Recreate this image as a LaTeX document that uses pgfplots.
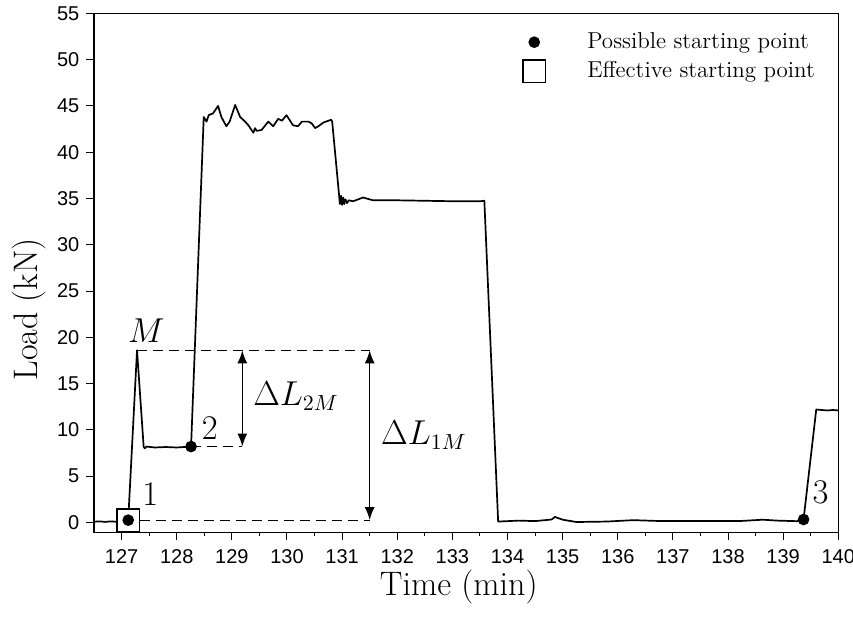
\documentclass[border=0pt]{standalone}
\usepackage{fontspec}
\usepackage{pgfplots}
\pgfplotsset{compat=1.18}
\usetikzlibrary{arrows.meta}
\newfontfamily\arialfont{Liberation Sans}

\pgfplotstableread{
t L
126.50 0.08
126.60 0.12
126.70 0.06
126.80 0.12
126.90 0.08
127.00 0.15
127.12 0.25
127.28 18.6
127.40 8.2
127.42 8.0
127.45 8.2
127.60 8.1
127.80 8.15
128.00 8.1
128.26 8.2
128.49 43.8
128.54 43.3
128.58 44.0
128.66 44.2
128.75 45.0
128.81 43.8
128.90 42.8
128.96 43.3
129.06 45.1
129.15 43.8
129.24 43.3
129.30 42.9
129.39 42.1
129.42 42.6
129.45 42.3
129.54 42.4
129.66 43.3
129.75 42.8
129.84 43.6
129.91 43.4
129.99 44.0
130.11 42.9
130.20 42.8
130.27 43.3
130.39 43.3
130.45 43.1
130.51 42.6
130.57 42.8
130.66 43.2
130.80 43.5
130.82 43.3
130.96 34.4
130.98 35.3
131.00 34.3
131.02 35.1
131.04 34.4
131.06 34.9
131.09 34.5
131.12 34.8
131.20 34.7
131.38 35.1
131.56 34.8
132.00 34.8
132.50 34.75
133.00 34.7
133.50 34.7
133.58 34.75
133.83 0.1
134.20 0.2
134.50 0.15
134.80 0.32
134.86 0.6
135.00 0.3
135.25 0.05
135.80 0.1
136.28 0.25
136.80 0.15
137.50 0.15
138.20 0.15
138.63 0.3
138.90 0.2
139.25 0.14
139.37 0.32
139.60 12.2
139.70 12.15
139.80 12.1
139.90 12.15
140.00 12.1
}\loadtable

\begin{document}
\begin{tikzpicture}[x=1pt,y=1pt]
\begin{axis}[
  at={(0,0)}, anchor=south west,
  scale only axis,
  width=372pt, height=259.5pt,
  xmin=126.5, xmax=140, ymin=-1.08, ymax=55,
  xtick={127,128,...,140}, ytick={0,5,...,55},
  minor x tick num=1,
  tick pos=left,
  tick align=outside,
  major tick length=3.8pt, minor tick length=2pt,
  tick style={black, line width=0.5pt},
  axis line style={line width=0.6pt},
  tick label style={font=\arialfont\fontsize{10}{11}\selectfont},
  xticklabel style={yshift=-1pt},
  /pgf/number format/assume math mode=true,
  xlabel={Time (min)}, ylabel={Load (kN)},
  x label style={at={(axis description cs:0.49,-0.105)}, anchor=center, font=\fontsize{17}{20}\selectfont},
  y label style={at={(axis description cs:-0.087,0.43)}, anchor=center, font=\fontsize{17}{20}\selectfont},
  legend style={draw=none, fill=none, at={(1,1)}, anchor=north east, xshift=-6.5pt, yshift=-5.5pt,
    font=\fontsize{11.5}{13.5}\selectfont, row sep=1pt},
  legend cell align=left,
  legend image code/.code={\path[draw=none,fill=none] (0pt,-4pt) rectangle (33.5pt,4pt); \draw[mark repeat=2,mark phase=2,#1] plot coordinates {(0pt,0pt)(9pt,0pt)(18pt,0pt)};},
]
% main curve
\addplot[black, line width=0.85pt, line join=round, forget plot] table[x=t,y=L] {\loadtable};
% dashed guides
\addplot[black, line width=0.6pt, dash pattern=on 5pt off 3pt, forget plot] coordinates {(127.28,18.6) (131.5,18.6)};
\addplot[black, line width=0.6pt, dash pattern=on 5pt off 3pt, forget plot] coordinates {(127.33,0.25) (131.5,0.25)};
\addplot[black, line width=0.6pt, dash pattern=on 5pt off 3pt, forget plot] coordinates {(128.26,8.2) (129.19,8.2)};
% arrows
\addplot[black, line width=0.8pt, {Latex[length=6.5pt,width=5pt]}-{Latex[length=6.5pt,width=5pt]}, forget plot] coordinates {(129.19,18.6) (129.19,8.2)};
\addplot[black, line width=0.8pt, {Latex[length=6.5pt,width=5pt]}-{Latex[length=6.5pt,width=5pt]}, forget plot] coordinates {(131.5,18.6) (131.5,0.25)};
% effective starting point box
\addplot[only marks, mark=square*, mark size=5.6pt, mark options={fill=white, line width=0.8pt}, forget plot] coordinates {(127.12,0.25)};
% possible starting points
\addplot[only marks, mark=*, mark size=2.7pt, black] coordinates {(127.12,0.25) (128.26,8.2) (139.37,0.32)};
\addlegendentry{Possible starting point}
\addlegendimage{only marks, mark=square, mark size=5.6pt, mark options={line width=0.8pt}, black}
\addlegendentry{Effective starting point}
% annotations
\node[font=\fontsize{16}{19}\selectfont] at (axis cs:127.45,20.7) {$M$};
\node[font=\fontsize{16}{19}\selectfont] at (axis cs:127.52,3.0) {$1$};
\node[font=\fontsize{16}{19}\selectfont] at (axis cs:128.60,10.2) {$2$};
\node[font=\fontsize{16}{19}\selectfont] at (axis cs:139.68,3.2) {$3$};
\node[font=\fontsize{16}{19}\selectfont, anchor=west] at (axis cs:129.26,13.6) {$\Delta L_{2M}$};
\node[font=\fontsize{16}{19}\selectfont, anchor=west] at (axis cs:131.58,9.4) {$\Delta L_{1M}$};
\end{axis}
\pgfresetboundingbox
\path[use as bounding box] (-47pt,-43.35pt) rectangle (379.35pt,266.15pt);
\end{tikzpicture}
\end{document}
